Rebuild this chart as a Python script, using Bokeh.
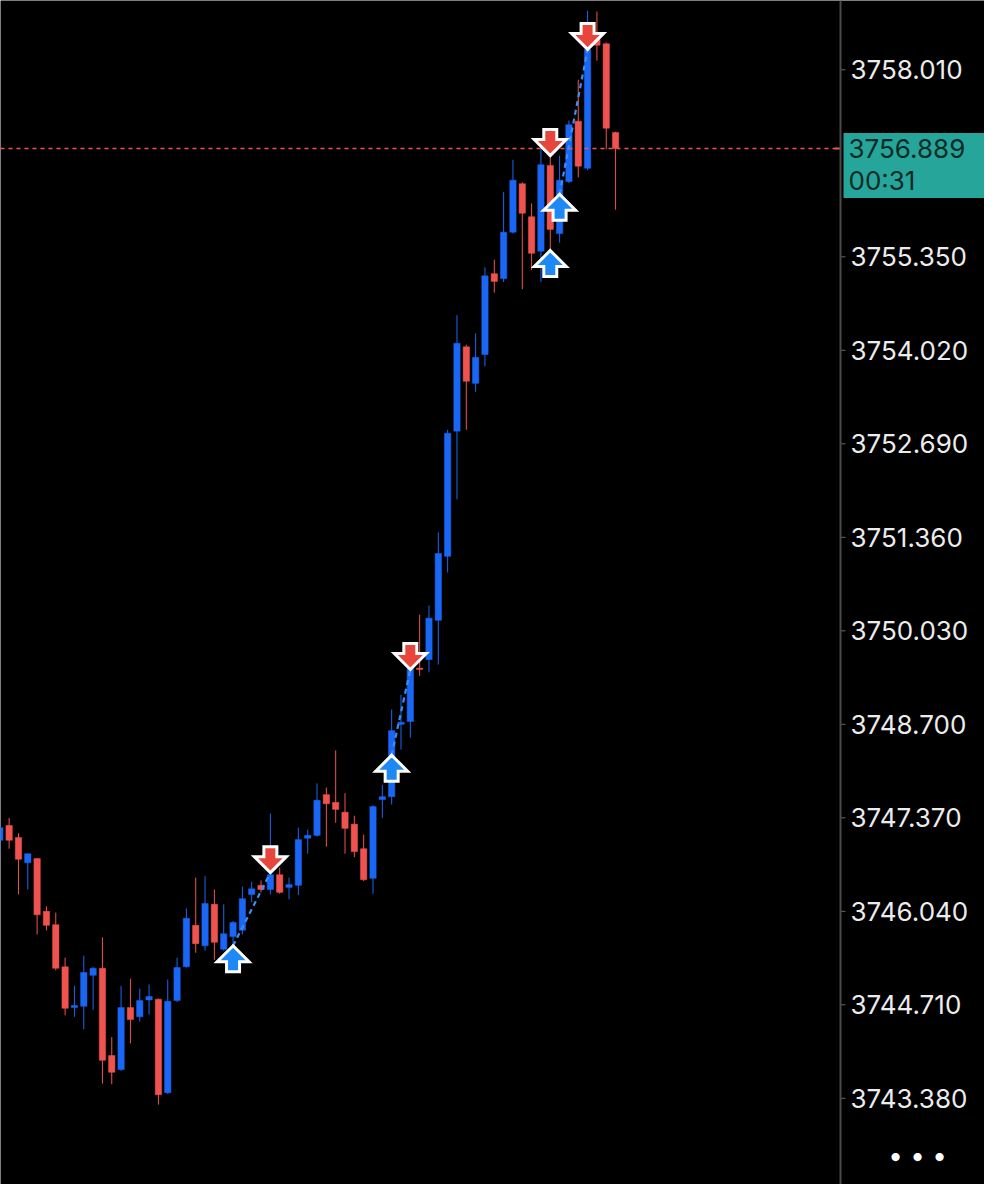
import numpy as np
from bokeh.plotting import figure
from bokeh.models import Range1d, Span, ColumnDataSource
from bokeh.embed import file_html
from bokeh.resources import INLINE
from bokeh.core.properties import value

# ---------------- data ----------------
opens = [3747.05, 3747.26, 3747.09, 3746.73, 3746.79, 3746.04, 3745.85, 3745.25, 3744.67, 3744.69,
         3745.13, 3745.23, 3743.99, 3743.79, 3744.67, 3744.54, 3744.78, 3744.79, 3743.46, 3744.77,
         3745.25, 3745.84, 3745.55, 3746.14, 3745.50, 3745.68, 3745.77, 3746.28, 3746.41, 3746.35,
         3746.56, 3746.38, 3746.41, 3747.08, 3747.12, 3747.70, 3747.59, 3747.45, 3747.28, 3746.93,
         3746.51, 3747.63, 3747.67, 3748.70, 3748.74, 3749.50, 3749.62, 3750.18, 3751.09, 3752.87,
         3754.07, 3753.55, 3753.96, 3755.11, 3755.04, 3755.70, 3756.39, 3755.92, 3755.43, 3756.65,
         3755.68, 3756.42, 3757.28, 3756.61, 3758.50, 3758.38, 3757.12]
highs = [3747.26, 3747.37, 3747.15, 3746.86, 3746.79, 3746.11, 3746.02, 3745.38, 3744.98, 3745.41,
         3745.25, 3745.67, 3744.25, 3744.98, 3745.08, 3744.94, 3745.00, 3744.80, 3745.07, 3745.38,
         3746.08, 3746.52, 3746.54, 3746.35, 3746.14, 3745.90, 3746.39, 3746.46, 3746.48, 3747.43,
         3746.66, 3746.52, 3747.23, 3747.20, 3747.86, 3747.80, 3748.33, 3747.72, 3747.40, 3747.13,
         3747.55, 3747.84, 3748.91, 3749.12, 3749.54, 3750.26, 3750.39, 3751.43, 3752.89, 3754.52,
         3754.10, 3754.26, 3755.20, 3755.31, 3756.27, 3756.73, 3756.41, 3756.11, 3756.91, 3756.79,
         3756.79, 3757.29, 3757.87, 3758.85, 3758.84, 3758.40, 3757.13]
lows = [3746.89, 3746.93, 3746.28, 3746.35, 3745.71, 3745.77, 3745.20, 3744.56, 3744.54, 3744.36,
        3744.64, 3743.59, 3743.58, 3743.77, 3744.16, 3744.47, 3744.57, 3743.29, 3743.44, 3744.75,
        3745.24, 3745.45, 3745.48, 3745.35, 3745.48, 3745.55, 3745.71, 3746.17, 3746.31, 3746.28,
        3746.29, 3746.21, 3746.27, 3746.86, 3747.10, 3746.96, 3747.30, 3746.86, 3746.81, 3746.47,
        3746.29, 3747.37, 3747.56, 3748.34, 3748.51, 3749.39, 3749.44, 3749.55, 3750.86, 3751.90,
        3752.89, 3753.43, 3753.79, 3754.84, 3754.99, 3755.68, 3754.89, 3755.16, 3754.99, 3755.41,
        3755.55, 3756.40, 3756.48, 3756.58, 3758.14, 3756.88, 3756.02]
closes = [3747.23, 3747.05, 3746.78, 3746.86, 3745.99, 3745.84, 3745.23, 3744.66, 3744.70, 3745.17,
          3745.23, 3743.92, 3743.75, 3744.67, 3744.50, 3744.77, 3744.83, 3743.43, 3744.76, 3745.24,
          3745.94, 3745.58, 3746.15, 3745.60, 3745.72, 3745.88, 3746.22, 3746.36, 3746.35, 3746.56,
          3746.31, 3746.42, 3747.06, 3747.12, 3747.62, 3747.57, 3747.49, 3747.22, 3746.89, 3746.49,
          3747.53, 3747.67, 3748.61, 3748.73, 3749.49, 3749.48, 3750.21, 3751.13, 3752.84, 3754.12,
          3753.58, 3753.92, 3755.08, 3755.00, 3755.70, 3756.44, 3755.97, 3755.40, 3756.66, 3755.74,
          3756.44, 3757.23, 3756.64, 3758.30, 3758.36, 3757.18, 3756.889]

buy_idx = [25, 42, 59, 60]
buy_price = [3745.55, 3748.26, 3755.44, 3756.24]
sell_idx = [29, 44, 59, 63]
sell_price = [3746.59, 3749.48, 3756.79, 3758.30]
trade_from = [0, 1, 3]   # index into buy list
trade_to = [0, 1, 3]     # index into sell list

tick_values = [3743.380, 3744.710, 3746.040, 3747.370, 3748.700, 3750.030,
               3751.360, 3752.690, 3754.020, 3755.350, 3758.010]
tick_labels = ["3743.380", "3744.710", "3746.040", "3747.370", "3748.700", "3750.030",
               "3751.360", "3752.690", "3754.020", "3755.350", "3758.010"]
last_price_text = "3756.889"
countdown_text = "00:31"
menu_text = "• • •"

# ---------------- styling ----------------
UP = "#1a66f5"
DOWN = "#ef5350"
TEAL = "#26a69a"
FONT = value("Inter")
W, H = 984, 1184
CANDLE_PX = 9.33          # horizontal pixels per candle
AXIS_PX = 840             # x position of the price-axis line inside the canvas
X0 = 0.075
X1 = X0 + W / CANDLE_PX
Y0, Y1 = 3742.154, 3758.996
px_x = CANDLE_PX
px_y = H / (Y1 - Y0)
ax_x = X0 + AXIS_PX / px_x

n = len(opens)
idx = list(range(n))
colors = [UP if c >= o else DOWN for o, c in zip(opens, closes)]
min_h = 1.2 / px_y
tops, bots = [], []
for o, c in zip(opens, closes):
    t, b = max(o, c), min(o, c)
    if t - b < min_h:
        m = (t + b) / 2
        t, b = m + min_h / 2, m - min_h / 2
    tops.append(t)
    bots.append(b)

src = ColumnDataSource(dict(x=idx, o=opens, h=highs, l=lows, c=closes,
                            top=tops, bottom=bots, color=colors))

p = figure(width=W, height=H, output_backend="svg", toolbar_location=None,
           x_range=Range1d(X0, X1), y_range=Range1d(Y0, Y1),
           x_axis_location=None, y_axis_location=None,
           min_border=0,
           background_fill_color="#000000", border_fill_color="#000000",
           outline_line_color=None)
p.xgrid.visible = False
p.ygrid.visible = False

# wicks and bodies
p.segment(x0="x", y0="h", x1="x", y1="l", line_color="color", line_width=1, source=src)
p.vbar(x="x", top="top", bottom="bottom", width=0.68, fill_color="color",
       line_color="color", line_width=0.5, source=src)

# current price line (stops at the price axis)
last = closes[-1]
p.segment(x0=[X0], y0=[last], x1=[ax_x], y1=[last], line_color=DOWN,
          line_dash="4 4", line_width=1.5)

# trade lines
for a, b in zip(trade_from, trade_to):
    p.line([buy_idx[a], sell_idx[b]], [buy_price[a], sell_price[b]],
           line_color="#3d8ef2", line_width=2.2, line_dash="5 4")

# arrows
shape = [(0, 0), (16, 16), (6.5, 16), (6.5, 26), (-6.5, 26), (-6.5, 16), (-16, 16)]
def arrows(xs_, ys_, direction):
    XS, YS = [], []
    for x, y in zip(xs_, ys_):
        XS.append([x + dx / px_x for dx, dy in shape])
        YS.append([y - direction * dy / px_y for dx, dy in shape])
    return XS, YS

bx, by = arrows(buy_idx, buy_price, 1)
p.patches(bx, by, fill_color="#1e88f5", line_color="#ffffff", line_width=3, line_join="miter")
sx, sy = arrows(sell_idx, sell_price, -1)
p.patches(sx, sy, fill_color="#e8453c", line_color="#ffffff", line_width=3, line_join="miter")

# ---------------- price axis on the right ----------------
p.add_layout(Span(location=ax_x, dimension="height", line_color="#4a4a4a", line_width=2))
p.segment(x0=[ax_x] * len(tick_values), y0=tick_values,
          x1=[ax_x + 5 / px_x] * len(tick_values), y1=tick_values,
          line_color="#6a6a6a", line_width=1)
p.text(x=[ax_x + 10 / px_x] * len(tick_values), y=tick_values, text=tick_labels,
       text_font=FONT, text_font_size="26px", text_color="#ececec",
       text_align="left", text_baseline="middle")

# current price marker on the axis
p.segment(x0=[ax_x - 6 / px_x], y0=[last], x1=[ax_x], y1=[last], line_color=DOWN, line_width=2)
p.quad(left=[ax_x + 3 / px_x], right=[ax_x + 145 / px_x],
       top=[last + 15.5 / px_y], bottom=[last - 49.5 / px_y],
       fill_color=TEAL, line_color=None)
p.text(x=[ax_x + 8 / px_x], y=[last], text=[last_price_text],
       text_font=FONT, text_font_size="26px", text_color="#0c2a26",
       text_align="left", text_baseline="middle")
p.text(x=[ax_x + 8 / px_x], y=[last - 31.5 / px_y], text=[countdown_text],
       text_font=FONT, text_font_size="26px", text_color="#0c2a26",
       text_align="left", text_baseline="middle")

# menu dots
p.text(x=[ax_x + 77 / px_x], y=[Y0 + 29 / px_y], text=[menu_text],
       text_font=FONT, text_font_size="26px", text_color="#ffffff",
       text_align="center", text_baseline="middle")

html = file_html(p, INLINE)
html = html.replace("<body>", '<body style="background-color:#000000;">', 1)
open("out.html", "w").write(html)
